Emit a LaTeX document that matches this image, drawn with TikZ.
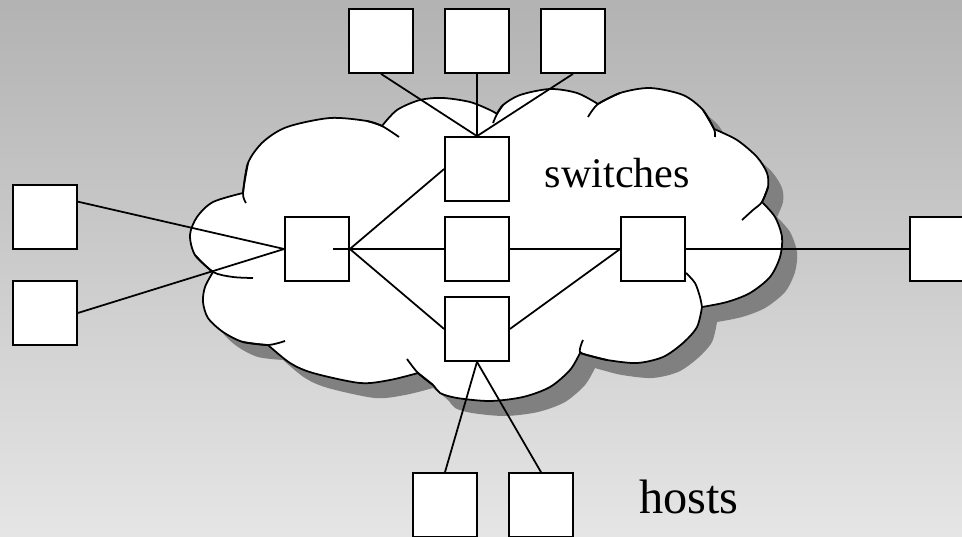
\documentclass[tikz,border=0pt]{standalone}
\usepackage{fontspec}
\setmainfont{Liberation Serif}
\usepackage{xcolor}
\colorlet{colBgTop}{black!30}
\colorlet{colBgBot}{black!10}
\colorlet{colShadow}{black!50}
\usepackage{tikz}
\usetikzlibrary{calc}

% outline of the cloud, one smooth plot per bump
\newcommand{\cloudpath}{plot[smooth] coordinates {(4.26,5.44) (3.90,5.10) (3.80,4.70) (3.94,4.34) (4.26,4.04) (4.86,3.86)}
	-- plot[smooth] coordinates {(4.86,3.86) (4.96,3.26) (5.26,2.84) (5.74,2.54) (6.60,2.36) (7.34,2.42) (7.64,2.52)}
	-- plot[smooth] coordinates {(7.64,2.52) (7.94,2.20) (8.40,2.00) (8.86,1.96) (9.40,2.04) (9.80,2.20) (9.94,2.28)}
	-- plot[smooth] coordinates {(9.94,2.28) (10.06,2.10) (10.40,1.90) (11.00,1.78) (11.54,1.86) (11.96,2.08)}
	-- plot[smooth] coordinates {(11.96,2.08) (12.40,1.86) (13.00,1.76) (13.66,1.90) (14.06,2.20) (14.28,2.58)}
	-- plot[smooth] coordinates {(14.28,2.58) (14.74,2.80) (15.14,3.14) (15.34,3.46) (15.36,3.74) (15.24,4.04)}
	-- plot[smooth] coordinates {(15.24,4.04) (15.50,4.34) (15.64,4.74) (15.60,5.14) (15.40,5.54) (15.00,5.86) (14.54,6.04) (14.04,6.14)}
	-- plot[smooth] coordinates {(14.04,6.14) (13.94,6.54) (13.66,6.86) (13.26,7.14) (12.74,7.26) (12.14,7.20) (11.74,7.10) (11.60,7.06)}
	-- plot[smooth] coordinates {(11.60,7.06) (11.40,7.40) (11.00,7.74) (10.46,7.94) (9.80,8.02) (9.14,7.96) (8.80,7.86) (8.66,7.70) (8.36,7.46)}
	-- plot[smooth] coordinates {(8.36,7.46) (7.80,7.60) (7.20,7.66) (6.26,7.46) (5.80,7.26) (5.36,6.90)}
	-- plot[smooth] coordinates {(5.36,6.90) (4.86,6.84) (4.46,6.64) (4.16,6.36) (4.06,6.04) (4.10,5.74) (4.26,5.44)}
	-- cycle}

\begin{document}
\begin{tikzpicture}[x=1cm, y=-1cm, line width=1pt,
		netbox/.style={draw, fill=white, minimum size=1.28cm, inner sep=0pt}]
	\shade[top color=colBgTop, bottom color=colBgBot] (0,0) rectangle (19.24,10.74);
	\useasboundingbox (0,0) rectangle (19.24,10.74);

	% cloud with its shadow
	\fill[colShadow, shift={(0.3,0.3)}] \cloudpath;
	\filldraw[fill=white] \cloudpath;
	\foreach \hk in {{(4.96,3.26) (4.86,3.86) (4.92,4.06)}, {(7.34,2.42) (7.64,2.52) (7.98,2.74)},
			{(9.86,2.46) (9.94,2.28) (10.06,2.10)}, {(11.76,2.34) (11.96,2.08) (12.40,1.86)},
			{(14.06,2.20) (14.28,2.58) (14.30,2.74)}, {(15.36,3.74) (15.24,4.04) (15.06,4.20) (14.84,4.40)},
			{(13.72,5.46) (13.90,5.66) (14.00,5.94) (14.04,6.14)}, {(12.14,7.20) (11.74,7.10) (11.60,7.04) (11.62,6.90) (11.66,6.80)},
			{(8.66,7.70) (8.36,7.46) (8.14,7.18)}, {(4.86,6.84) (5.36,6.90) (5.70,6.82)},
			{(3.90,5.10) (4.26,5.44) (4.66,5.54) (5.06,5.56)}}{
		\draw plot[smooth] coordinates \hk;
	}

	% switches
	\node[netbox] (sl) at (6.34,4.98) {};
	\node[netbox] (st) at (9.54,3.38) {};
	\node[netbox] (sm) at (9.54,4.98) {};
	\node[netbox] (sb) at (9.54,6.58) {};
	\node[netbox] (sr) at (13.06,4.98) {};

	% hosts
	\foreach \n/\x in {t1/7.62, t2/9.54, t3/11.46}{
		\node[netbox] (\n) at (\x,0.82) {};
	}
	\node[netbox] (l1) at (0.90,4.34) {};
	\node[netbox] (l2) at (0.90,6.26) {};
	\node[netbox] (r1) at (18.84,4.98) {};
	\node[netbox] (b1) at (8.90,10.10) {};
	\node[netbox] (b2) at (10.82,10.10) {};

	% links
	\coordinate (slin) at ($(sl)+(0.32,0)$);
	\foreach \a/\b in {t1.south/st.north, t2.south/st.north, t3.south/st.north,
			l1.25/sl.west, l2.east/sl.west, sl.east/st.west, slin/sm.west, sl.east/sb.west,
			sm.east/sr.west, sb.east/sr.west, sr.east/r1.west, sb.south/b1.north, sb.south/b2.north}{
		\draw (\a) -- (\b);
	}

	\node[anchor=base, font=\fontsize{24}{28}\selectfont] (swlabel) at (12.35,3.76) {switches};
	\node[anchor=base, font=\fontsize{27.5}{32}\selectfont] (hostlabel) at (13.78,10.26) {hosts};
\end{tikzpicture}
\end{document}
